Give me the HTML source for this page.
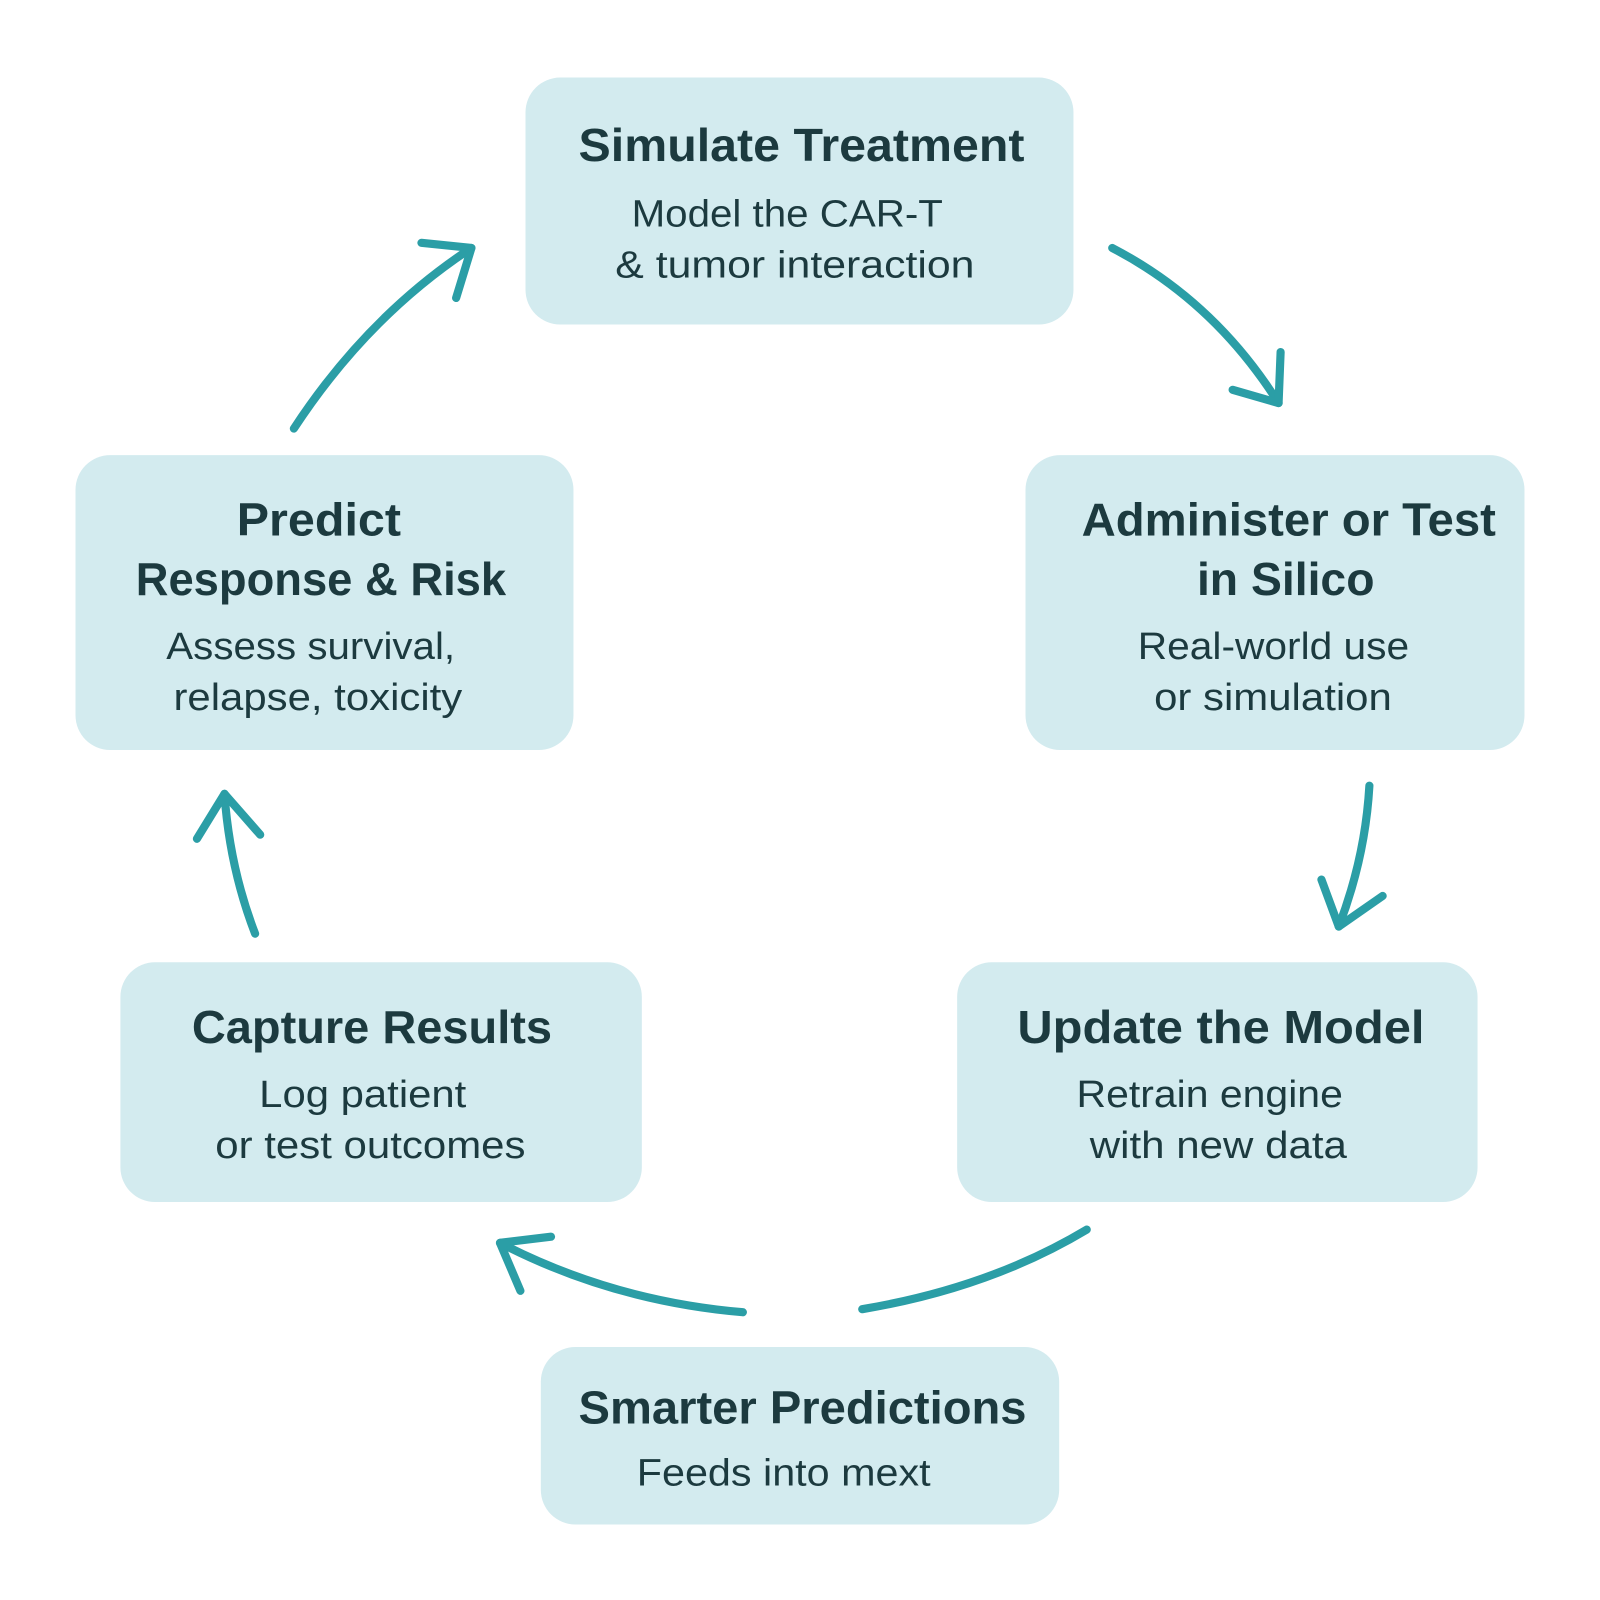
<!DOCTYPE html>
<html><head><meta charset="utf-8"><style>
html,body{margin:0;padding:0;background:#fff;}
svg{display:block;}
text{font-family:"Liberation Sans","DejaVu Sans",sans-serif;fill:#1c3a3f;text-anchor:middle;}
.t{font-size:45px;font-weight:bold;}
.s{font-size:37px;}
</style></head><body>
<svg width="1600" height="1600" viewBox="0 0 1568 1568" xmlns="http://www.w3.org/2000/svg">
<g fill="#d3ebef">
<rect x="515" y="76" width="537" height="242" rx="34"/>
<rect x="1005" y="446" width="489" height="289" rx="34"/>
<rect x="938" y="943" width="510" height="235" rx="34"/>
<rect x="530" y="1320" width="508" height="174" rx="34"/>
<rect x="118" y="943" width="511" height="235" rx="34"/>
<rect x="74" y="446" width="488" height="289" rx="34"/>
</g>
<g lengthAdjust="spacingAndGlyphs">
<text class="t" x="785.5" y="158" textLength="437" lengthAdjust="spacingAndGlyphs">Simulate Treatment</text>
<text class="s" x="771.5" y="222" textLength="305" lengthAdjust="spacingAndGlyphs">Model the CAR-T</text>
<text class="s" x="779" y="272" textLength="352" lengthAdjust="spacingAndGlyphs">&amp; tumor interaction</text>

<text class="t" x="1263" y="525" textLength="406" lengthAdjust="spacingAndGlyphs">Administer or Test</text>
<text class="t" x="1260" y="583" textLength="174" lengthAdjust="spacingAndGlyphs">in Silico</text>
<text class="s" x="1248" y="646" textLength="266" lengthAdjust="spacingAndGlyphs">Real-world use</text>
<text class="s" x="1247.5" y="696" textLength="233" lengthAdjust="spacingAndGlyphs">or simulation</text>

<text class="t" x="1196.5" y="1022" textLength="399" lengthAdjust="spacingAndGlyphs">Update the Model</text>
<text class="s" x="1185.5" y="1085" textLength="261" lengthAdjust="spacingAndGlyphs">Retrain engine</text>
<text class="s" x="1194" y="1135" textLength="252" lengthAdjust="spacingAndGlyphs">with new data</text>

<text class="t" x="786.5" y="1395" textLength="439" lengthAdjust="spacingAndGlyphs">Smarter Predictions</text>
<text class="s" x="768" y="1456" textLength="288" lengthAdjust="spacingAndGlyphs">Feeds into mext</text>

<text class="t" x="364.5" y="1022" textLength="353" lengthAdjust="spacingAndGlyphs">Capture Results</text>
<text class="s" x="355.5" y="1085" textLength="203" lengthAdjust="spacingAndGlyphs">Log patient</text>
<text class="s" x="363" y="1135" textLength="304" lengthAdjust="spacingAndGlyphs">or test outcomes</text>

<text class="t" x="312.5" y="525" textLength="161" lengthAdjust="spacingAndGlyphs">Predict</text>
<text class="t" x="314.5" y="583" textLength="363" lengthAdjust="spacingAndGlyphs">Response &amp; Risk</text>
<text class="s" x="304.5" y="646" textLength="283" lengthAdjust="spacingAndGlyphs">Assess survival,</text>
<text class="s" x="311.5" y="696" textLength="283" lengthAdjust="spacingAndGlyphs">relapse, toxicity</text>
</g>
<g fill="none" stroke="#2b9ea6" stroke-width="8" stroke-linecap="round" stroke-linejoin="round">
<path d="M1090 243 Q1190 295 1253 395"/>
<path d="M1208 382 L1253 395 L1255 345"/>
<path d="M1342 770 Q1338 840 1312 908"/>
<path d="M1295 862 L1312 908 L1355 878"/>
<path d="M1065 1205 Q970 1262 845 1283"/>
<path d="M728 1286 Q600 1275 490 1218"/>
<path d="M540 1212 L490 1218 L510 1265"/>
<path d="M250 915 Q225 850 220 778"/>
<path d="M193 822 L220 778 L255 818"/>
<path d="M288 420 Q360 310 462 243"/>
<path d="M413 238 L462 243 L447 292"/>
</g>
</svg>
</body></html>
